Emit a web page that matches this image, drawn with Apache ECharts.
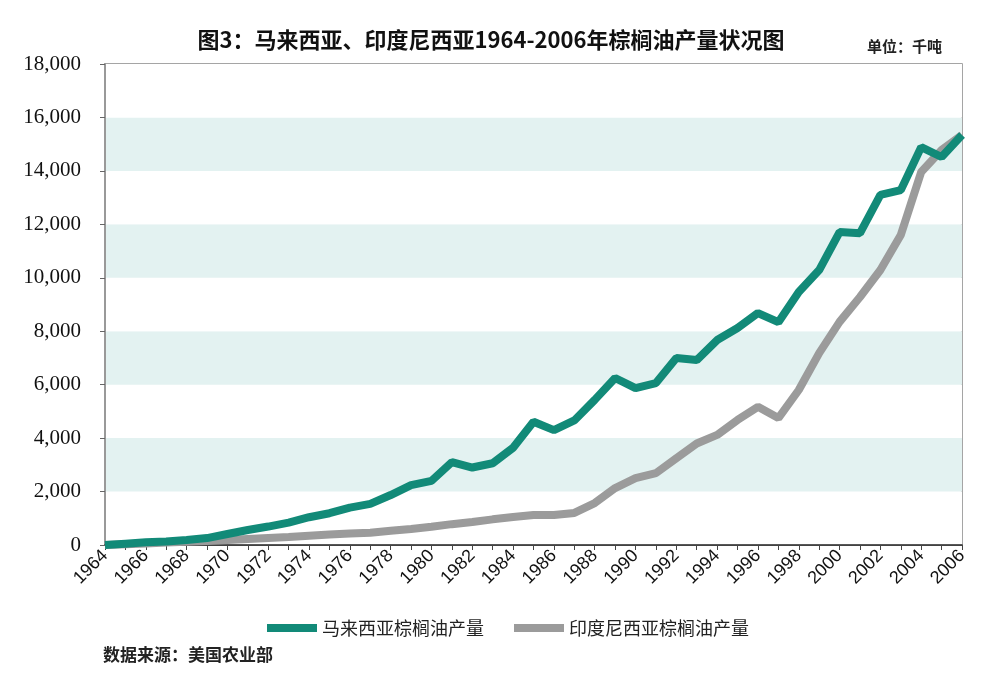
<!DOCTYPE html>
<html>
<head>
<meta charset="utf-8">
<script src="https://cdn.jsdelivr.net/npm/echarts@6/dist/echarts.min.js"></script>
<style>
  html, body { margin: 0; padding: 0; background: #fff; }
  #main { width: 1000px; height: 680px; }
</style>
</head>
<body>
<div id="main"></div>
<script>
var years = [];
for (var y = 1964; y <= 2006; y++) years.push(String(y));

// 千吨
var malaysia = [0, 50, 100, 130, 190, 260, 410, 560, 690, 840,
                1040, 1190, 1400, 1540, 1870, 2240, 2400, 3100, 2900, 3060,
                3640, 4610, 4300, 4660, 5430, 6250, 5870, 6060, 7000, 6920,
                7670, 8120, 8680, 8340, 9470, 10290, 11710, 11670, 13100, 13280,
                14890, 14520, 15340];
var indonesia = [0, 30, 60, 90, 120, 150, 185, 225, 265, 300,
                 345, 390, 430, 460, 530, 600, 680, 780, 860, 960,
                 1050, 1120, 1120, 1200, 1570, 2130, 2500, 2690, 3250, 3800,
                 4120, 4680, 5170, 4750, 5800, 7180, 8350, 9280, 10290, 11600,
                 13960, 14780, 15340];

var seriesNames = ['马来西亚棕榈油产量', '印度尼西亚棕榈油产量'];
var yTicks = [0, 2000, 4000, 6000, 8000, 10000, 12000, 14000, 16000, 18000];

var myChart = echarts.init(document.getElementById('main'));

var option = {
    backgroundColor: '#fff',
    animation: false,
    title: {
        text: '图3：马来西亚、印度尼西亚1964-2006年棕榈油产量状况图',
        left: 486,
        top: 24,
        textAlign: 'center',
        textStyle: {
            fontFamily: 'Noto Sans CJK SC',
            fontSize: 22,
            fontWeight: 'bold',
            color: '#111'
        }
    },
    graphic: [{
        type: 'text',
        left: 867,
        top: 39,
        style: {
            text: '单位：千吨',
            font: 'bold 15px "Noto Sans CJK SC"',
            fill: '#222'
        }
    }, {
        type: 'text',
        left: 103,
        top: 646,
        style: {
            text: '数据来源：美国农业部',
            font: 'bold 17px "Noto Sans CJK SC"',
            fill: '#222'
        }
    }],
    legend: {
        data: seriesNames,
        left: 262,
        top: 614,
        itemWidth: 50,
        itemHeight: 8,
        itemGap: 30,
        icon: 'rect',
        textStyle: {
            fontFamily: 'Noto Sans CJK SC',
            fontSize: 18,
            color: '#222'
        }
    },
    grid: {
        left: 105,
        right: 38,
        top: 64,
        bottom: 135,
        show: true,
        borderColor: '#888',
        borderWidth: 1.5,
        backgroundColor: 'transparent'
    },
    xAxis: {
        type: 'category',
        data: years,
        boundaryGap: false,
        axisLine: { lineStyle: { color: '#222', width: 1.5 } },
        axisTick: { interval: 0, length: 5, lineStyle: { color: '#444' } },
        axisLabel: {
            interval: 1,
            rotate: 45,
            margin: 8,
            fontFamily: 'Liberation Sans',
            fontSize: 18,
            color: '#111'
        },
        splitLine: { show: false }
    },
    yAxis: {
        type: 'value',
        min: yTicks[0],
        max: yTicks[yTicks.length - 1],
        interval: 2000,
        axisLine: { show: true, lineStyle: { color: '#999', width: 2 } },
        axisTick: { show: true, length: 5, lineStyle: { color: '#666' } },
        axisLabel: {
            margin: 24,
            fontFamily: 'Liberation Serif',
            fontSize: 21,
            color: '#111',
            formatter: function (v) {
                return v.toString().replace(/\B(?=(\d{3})+(?!\d))/g, ',');
            }
        },
        splitLine: { show: false },
        splitArea: {
            show: true,
            areaStyle: { color: ['#ffffff', '#e3f2f1'] }
        }
    },
    series: [{
        name: seriesNames[1],
        type: 'line',
        data: indonesia,
        symbol: 'none',
        z: 2,
        itemStyle: { color: '#9b9b9b' },
        lineStyle: { color: '#9b9b9b', width: 8 }
    }, {
        name: seriesNames[0],
        type: 'line',
        data: malaysia,
        symbol: 'none',
        z: 3,
        itemStyle: { color: '#128a78' },
        lineStyle: { color: '#128a78', width: 8 }
    }]
};
myChart.setOption(option, true);
</script>
</body>
</html>
